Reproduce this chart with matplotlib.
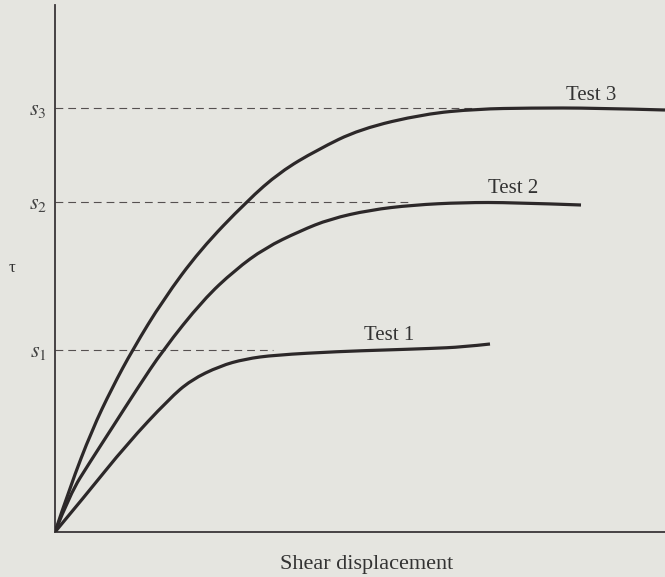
import matplotlib
matplotlib.use("Agg")
import matplotlib.pyplot as plt
from matplotlib.path import Path
from matplotlib.patches import PathPatch

# shear stress vs shear displacement for three direct shear tests
test1_x = [0, 30, 72, 114, 136, 165, 190, 220, 284, 330, 375, 408, 435]
test1_y = [0, 36, 88, 133, 152, 166, 173, 177, 180.5, 182, 183.5, 185, 188]

test2_x = [0, 15, 35, 57, 82, 108, 148, 180, 210, 245, 275, 315, 358, 408, 458, 526]
test2_y = [0, 38, 70, 104, 143, 182, 232, 262, 284, 301, 313, 322, 327, 329.5, 329.5, 327]

test3_x = [0, 15, 37, 57, 78, 108, 145, 192, 225, 262, 305, 369, 422, 475, 540, 610]
test3_y = [0, 45, 102, 144, 183, 232, 282, 331, 360, 382, 403, 418, 423, 424, 424, 422]

# peak strengths and where their guide lines stop
s_levels = [182, 330, 424]
s_labels = [r"$s_1$", r"$s_2$", r"$s_3$"]
guide_end = [218, 356, 422]

test_names = ["Test 1", "Test 2", "Test 3"]
name_pos = [(334, 192), (458, 339), (536, 432)]

bg = "#e5e5e0"
ink = "#2c2829"


def smooth_path(xs, ys):
    """Quadratic B-spline through the given control points."""
    pts = list(zip(xs, ys))
    verts = [pts[0]]
    codes = [Path.MOVETO]
    for i in range(1, len(pts) - 1):
        if i < len(pts) - 2:
            end = ((pts[i][0] + pts[i + 1][0]) / 2, (pts[i][1] + pts[i + 1][1]) / 2)
        else:
            end = pts[-1]
        verts += [pts[i], end]
        codes += [Path.CURVE3, Path.CURVE3]
    return Path(verts, codes)


plt.rcParams["font.family"] = ["Liberation Serif", "DejaVu Serif"]
plt.rcParams["mathtext.fontset"] = "stix"

fig = plt.figure(figsize=(6.65, 5.77), dpi=100, facecolor=bg)
ax = fig.add_axes([55 / 665, 45 / 577, 610 / 665, 527 / 577])
ax.set_facecolor(bg)

for lvl, xe in zip(s_levels, guide_end):
    ax.plot([0, xe], [lvl, lvl], color="#555050", lw=0.8,
            dashes=(7, 4.5), zorder=1)

for xs, ys in [(test1_x, test1_y), (test2_x, test2_y), (test3_x, test3_y)]:
    ax.add_patch(PathPatch(smooth_path(xs, ys), facecolor="none",
                           edgecolor=ink, lw=2.3, capstyle="butt",
                           joinstyle="round", zorder=3))

for name, (tx, ty) in zip(test_names, name_pos):
    ax.text(tx, ty, name, ha="center", va="baseline", fontsize=15, color="#333")

ax.set_xlim(0, 610)
ax.set_ylim(0, 527)
ax.set_xticks([])
ax.set_yticks(s_levels)
ax.set_yticklabels(s_labels, fontsize=16, color="#444")
ax.tick_params(axis="y", length=0, pad=6)

for side in ["top", "right"]:
    ax.spines[side].set_visible(False)
for side in ["left", "bottom"]:
    ax.spines[side].set_color("#3a3538")
    ax.spines[side].set_linewidth(1.3)

fig.text(12 / 665, 1 - 268 / 577, "τ", ha="center", va="center",
         fontsize=12, color="#333")
fig.text(367 / 665, 1 - 565 / 577, "Shear displacement", ha="center",
         va="center", fontsize=16, color="#333")

fig.savefig("out.png", dpi=100, facecolor=bg)
